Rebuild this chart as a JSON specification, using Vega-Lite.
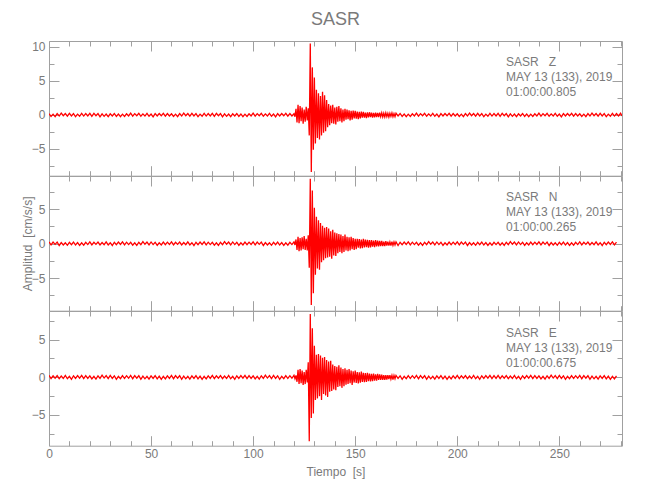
{
"$schema": "https://vega.github.io/schema/vega-lite/v6.json",
"title": {"text": "SASR", "fontSize": 18, "font": "Liberation Sans", "fontWeight": "normal", "color": "#7a7a7a", "anchor": "middle", "offset": 12, "frame": "group"},
"padding": {"left": 21, "top": 10, "right": 5, "bottom": 5},
"spacing": 0,
"bounds": "flush",
"datasets": {
"frame": [{"t": 0, "v": 0}],
"seis": [
{"t":0,"z":0.18,"n":0.25,"e":0.26},{"t":1,"z":-0.22,"n":-0.19,"e":-0.17},{"t":2,"z":0.12,"n":0.23,"e":0.2},{"t":3,"z":-0.25,"n":-0.11,"e":-0.11},{"t":4,"z":0.2,"n":0.21,"e":0.23},
{"t":5,"z":-0.15,"n":-0.27,"e":-0.19},{"t":6,"z":0.28,"n":0.16,"e":0.16},{"t":7,"z":-0.1,"n":-0.2,"e":-0.16},{"t":8,"z":0.22,"n":0.13,"e":0.24},{"t":9,"z":-0.17,"n":-0.24,"e":-0.19},
{"t":10,"z":0.24,"n":0.18,"e":0.13},{"t":11,"z":-0.14,"n":-0.15,"e":-0.27},{"t":12,"z":0.2,"n":0.22,"e":0.2},{"t":13,"z":-0.26,"n":-0.2,"e":-0.15},{"t":14,"z":0.12,"n":0.15,"e":0.22},
{"t":15,"z":-0.19,"n":-0.26,"e":-0.12},{"t":16,"z":0.23,"n":0.12,"e":0.25},{"t":17,"z":-0.16,"n":-0.22,"e":-0.18},{"t":18,"z":0.21,"n":0.18,"e":0.21},{"t":19,"z":-0.13,"n":-0.14,"e":-0.14},
{"t":20,"z":0.25,"n":0.26,"e":0.18},{"t":21,"z":-0.19,"n":-0.17,"e":-0.22},{"t":22,"z":0.23,"n":0.2,"e":0.12},{"t":23,"z":-0.11,"n":-0.11,"e":-0.25},{"t":24,"z":0.21,"n":0.23,"e":0.2},
{"t":25,"z":-0.27,"n":-0.19,"e":-0.15},{"t":26,"z":0.16,"n":0.16,"e":0.28},{"t":27,"z":-0.2,"n":-0.16,"e":-0.1},{"t":28,"z":0.13,"n":0.24,"e":0.22},{"t":29,"z":-0.24,"n":-0.19,"e":-0.17},
{"t":30,"z":0.18,"n":0.13,"e":0.24},{"t":31,"z":-0.15,"n":-0.27,"e":-0.14},{"t":32,"z":0.22,"n":0.2,"e":0.2},{"t":33,"z":-0.2,"n":-0.15,"e":-0.26},{"t":34,"z":0.15,"n":0.22,"e":0.12},
{"t":35,"z":-0.26,"n":-0.12,"e":-0.19},{"t":36,"z":0.12,"n":0.25,"e":0.23},{"t":37,"z":-0.22,"n":-0.18,"e":-0.16},{"t":38,"z":0.18,"n":0.21,"e":0.21},{"t":39,"z":-0.14,"n":-0.14,"e":-0.13},
{"t":40,"z":0.26,"n":0.18,"e":0.25},{"t":41,"z":-0.17,"n":-0.22,"e":-0.19},{"t":42,"z":0.2,"n":0.12,"e":0.23},{"t":43,"z":-0.11,"n":-0.25,"e":-0.11},{"t":44,"z":0.23,"n":0.2,"e":0.21},
{"t":45,"z":-0.19,"n":-0.15,"e":-0.27},{"t":46,"z":0.16,"n":0.28,"e":0.16},{"t":47,"z":-0.16,"n":-0.1,"e":-0.2},{"t":48,"z":0.24,"n":0.22,"e":0.13},{"t":49,"z":-0.19,"n":-0.17,"e":-0.24},
{"t":50,"z":0.13,"n":0.24,"e":0.18},{"t":51,"z":-0.27,"n":-0.14,"e":-0.15},{"t":52,"z":0.2,"n":0.2,"e":0.22},{"t":53,"z":-0.15,"n":-0.26,"e":-0.2},{"t":54,"z":0.22,"n":0.12,"e":0.15},
{"t":55,"z":-0.12,"n":-0.19,"e":-0.26},{"t":56,"z":0.25,"n":0.23,"e":0.12},{"t":57,"z":-0.18,"n":-0.16,"e":-0.22},{"t":58,"z":0.21,"n":0.21,"e":0.18},{"t":59,"z":-0.14,"n":-0.13,"e":-0.14},
{"t":60,"z":0.18,"n":0.26,"e":0.25},{"t":61,"z":-0.22,"n":-0.17,"e":-0.19},{"t":62,"z":0.12,"n":0.2,"e":0.23},{"t":63,"z":-0.25,"n":-0.11,"e":-0.11},{"t":64,"z":0.2,"n":0.23,"e":0.21},
{"t":65,"z":-0.15,"n":-0.19,"e":-0.27},{"t":66,"z":0.28,"n":0.16,"e":0.16},{"t":67,"z":-0.1,"n":-0.16,"e":-0.2},{"t":68,"z":0.22,"n":0.24,"e":0.13},{"t":69,"z":-0.17,"n":-0.19,"e":-0.24},
{"t":70,"z":0.24,"n":0.13,"e":0.18},{"t":71,"z":-0.14,"n":-0.27,"e":-0.15},{"t":72,"z":0.2,"n":0.2,"e":0.22},{"t":73,"z":-0.26,"n":-0.15,"e":-0.2},{"t":74,"z":0.12,"n":0.22,"e":0.15},
{"t":75,"z":-0.19,"n":-0.12,"e":-0.26},{"t":76,"z":0.23,"n":0.25,"e":0.12},{"t":77,"z":-0.16,"n":-0.18,"e":-0.22},{"t":78,"z":0.21,"n":0.21,"e":0.18},{"t":79,"z":-0.13,"n":-0.14,"e":-0.14},
{"t":80,"z":0.25,"n":0.18,"e":0.26},{"t":81,"z":-0.19,"n":-0.22,"e":-0.17},{"t":82,"z":0.23,"n":0.12,"e":0.2},{"t":83,"z":-0.11,"n":-0.25,"e":-0.11},{"t":84,"z":0.21,"n":0.2,"e":0.23},
{"t":85,"z":-0.27,"n":-0.15,"e":-0.19},{"t":86,"z":0.16,"n":0.28,"e":0.16},{"t":87,"z":-0.2,"n":-0.1,"e":-0.16},{"t":88,"z":0.13,"n":0.22,"e":0.24},{"t":89,"z":-0.24,"n":-0.17,"e":-0.19},
{"t":90,"z":0.18,"n":0.24,"e":0.13},{"t":91,"z":-0.15,"n":-0.14,"e":-0.27},{"t":92,"z":0.22,"n":0.2,"e":0.2},{"t":93,"z":-0.2,"n":-0.26,"e":-0.15},{"t":94,"z":0.15,"n":0.12,"e":0.22},
{"t":95,"z":-0.26,"n":-0.19,"e":-0.12},{"t":96,"z":0.12,"n":0.23,"e":0.25},{"t":97,"z":-0.22,"n":-0.16,"e":-0.18},{"t":98,"z":0.18,"n":0.21,"e":0.21},{"t":99,"z":-0.14,"n":-0.13,"e":-0.14},
{"t":100,"z":0.26,"n":0.25,"e":0.18},{"t":101,"z":-0.17,"n":-0.19,"e":-0.22},{"t":102,"z":0.2,"n":0.23,"e":0.12},{"t":103,"z":-0.11,"n":-0.11,"e":-0.25},{"t":104,"z":0.23,"n":0.21,"e":0.2},
{"t":105,"z":-0.19,"n":-0.27,"e":-0.15},{"t":106,"z":0.16,"n":0.16,"e":0.28},{"t":107,"z":-0.16,"n":-0.2,"e":-0.1},{"t":108,"z":0.24,"n":0.13,"e":0.22},{"t":109,"z":-0.19,"n":-0.24,"e":-0.17},
{"t":110,"z":0.13,"n":0.18,"e":0.24},{"t":111,"z":-0.27,"n":-0.15,"e":-0.14},{"t":112,"z":0.2,"n":0.22,"e":0.2},{"t":113,"z":-0.15,"n":-0.2,"e":-0.26},{"t":114,"z":0.22,"n":0.15,"e":0.12},
{"t":115,"z":-0.12,"n":-0.26,"e":-0.19},{"t":116,"z":0.25,"n":0.12,"e":0.23},{"t":117,"z":-0.18,"n":-0.22,"e":-0.16},{"t":118,"z":0.21,"n":0.18,"e":0.21},{"t":119,"z":-0.14,"n":-0.14,"e":-0.13},
{"t":120,"z":0.18,"n":0.25,"e":0.26},
{"t":120.5,"z":-0.25,"n":-0.2,"e":-0.2},{"t":121,"z":0.9,"n":0.6,"e":0.25},{"t":121.5,"z":-1.1,"n":-0.9,"e":-0.6},{"t":122,"z":1.5,"n":1.0,"e":1.0},
{"t":122.5,"z":-1.2,"n":-1.1,"e":-0.9},{"t":123,"z":1.3,"n":0.8,"e":1.1},{"t":123.5,"z":-0.9,"n":-1.0,"e":-0.8},{"t":124,"z":1.1,"n":0.9,"e":0.9},
{"t":124.5,"z":-1.3,"n":-0.8,"e":-1.0},{"t":125,"z":0.8,"n":1.1,"e":0.7},{"t":125.5,"z":-1.0,"n":-0.9,"e":-0.9},{"t":126,"z":1.2,"n":0.7,"e":1.0},
{"t":126.5,"z":-0.8,"n":-1.0,"e":-0.7},{"t":127,"z":1.0,"n":1.2,"e":2.0},{"t":127.5,"z":-3.0,"n":-3.5,"e":-8.5},{"t":128,"z":10.5,"n":9.4,"e":8.4},
{"t":128.5,"z":-8.4,"n":-8.9,"e":-5.4},{"t":129,"z":7.0,"n":7.7,"e":6.5},{"t":129.5,"z":-5.1,"n":-7.2,"e":-4.8},{"t":130,"z":5.5,"n":5.2,"e":4.2},
{"t":130.5,"z":-4.2,"n":-4.5,"e":-3.0},{"t":131,"z":3.7,"n":3.9,"e":3.0},{"t":131.5,"z":-3.4,"n":-3.6,"e":-2.8},{"t":132,"z":3.2,"n":3.4,"e":3.1},
{"t":132.5,"z":-3.6,"n":-3.8,"e":-2.5},{"t":133,"z":2.8,"n":3.0,"e":2.9},{"t":133.5,"z":-3.0,"n":-2.7,"e":-3.0},{"t":134,"z":3.4,"n":2.6,"e":2.6},
{"t":134.5,"z":-2.6,"n":-2.4,"e":-2.2},{"t":135,"z":2.9,"n":2.3,"e":2.7},{"t":135.5,"z":-2.4,"n":-2.1,"e":-2.4},{"t":136,"z":2.2,"n":2.4,"e":2.3},
{"t":136.5,"z":-1.8,"n":-2.0,"e":-2.6},{"t":137,"z":1.6,"n":2.2,"e":2.1},{"t":137.5,"z":-1.5,"n":-1.9,"e":-1.9},{"t":138,"z":1.4,"n":1.8,"e":2.2},
{"t":138.5,"z":-1.2,"n":-2.2,"e":-1.8},{"t":139,"z":1.5,"n":2.0,"e":1.7},{"t":139.5,"z":-1.3,"n":-1.7,"e":-1.6},{"t":140,"z":1.1,"n":1.6,"e":1.5},
{"t":140.5,"z":-1.4,"n":-1.8,"e":-1.7},{"t":141,"z":1.2,"n":1.5,"e":1.4},{"t":141.5,"z":-1.0,"n":-1.4,"e":-1.3},{"t":142,"z":1.3,"n":1.4,"e":1.6},
{"t":142.5,"z":-0.9,"n":-1.2,"e":-1.2},{"t":143,"z":1.0,"n":1.3,"e":1.3},{"t":143.5,"z":-1.1,"n":-1.4,"e":-1.4},{"t":144,"z":0.8,"n":1.1,"e":1.1},
{"t":144.5,"z":-0.9,"n":-1.2,"e":-1.2},{"t":145,"z":0.9,"n":1.3,"e":1.2},{"t":145.5,"z":-0.7,"n":-1.0,"e":-1.0},{"t":146,"z":0.8,"n":1.0,"e":1.0},
{"t":146.5,"z":-0.6,"n":-1.1,"e":-0.9},{"t":147,"z":0.7,"n":0.9,"e":1.1},{"t":147.5,"z":-0.8,"n":-1.0,"e":-0.8},{"t":148,"z":0.6,"n":1.0,"e":0.9},
{"t":148.5,"z":-0.7,"n":-0.8,"e":-1.0},{"t":149,"z":0.65,"n":0.8,"e":0.8},{"t":149.5,"z":-0.5,"n":-0.9,"e":-0.7},{"t":150,"z":0.6,"n":0.7,"e":0.9},
{"t":150.5,"z":-0.55,"n":-0.8,"e":-0.75},{"t":151,"z":0.5,"n":0.7,"e":0.7},{"t":151.5,"z":-0.6,"n":-0.6,"e":-0.8},{"t":152,"z":0.45,"n":0.65,"e":0.65},
{"t":152.5,"z":-0.5,"n":-0.7,"e":-0.7},{"t":153,"z":0.5,"n":0.6,"e":0.75},{"t":153.5,"z":-0.4,"n":-0.65,"e":-0.6},{"t":154,"z":0.45,"n":0.7,"e":0.6},
{"t":154.5,"z":-0.4,"n":-0.55,"e":-0.65},{"t":155,"z":0.35,"n":0.6,"e":0.55},{"t":155.5,"z":-0.45,"n":-0.5,"e":-0.6},{"t":156,"z":0.4,"n":0.55,"e":0.6},
{"t":156.5,"z":-0.35,"n":-0.6,"e":-0.5},{"t":157,"z":0.4,"n":0.5,"e":0.5},{"t":157.5,"z":-0.3,"n":-0.55,"e":-0.55},{"t":158,"z":0.35,"n":0.5,"e":0.45},
{"t":158.5,"z":-0.4,"n":-0.45,"e":-0.5},{"t":159,"z":0.3,"n":0.45,"e":0.5},{"t":159.5,"z":-0.35,"n":-0.5,"e":-0.45},{"t":160,"z":0.35,"n":0.5,"e":0.4},
{"t":160.5,"z":-0.3,"n":-0.4,"e":-0.45},{"t":161,"z":0.3,"n":0.45,"e":0.45},{"t":161.5,"z":-0.3,"n":-0.4,"e":-0.35},{"t":162,"z":0.35,"n":0.4,"e":0.4},
{"t":162.5,"z":-0.25,"n":-0.35,"e":-0.35},{"t":163,"z":0.3,"n":0.4,"e":0.35},{"t":163.5,"z":-0.3,"n":-0.35,"e":-0.35},{"t":164,"z":0.25,"n":0.3,"e":0.3},
{"t":164.5,"z":-0.3,"n":-0.35,"e":-0.35},{"t":165,"z":0.3,"n":0.35,"e":0.3},{"t":165.5,"z":-0.25,"n":-0.3,"e":-0.3},{"t":166,"z":0.25,"n":0.3,"e":0.3},
{"t":166.5,"z":-0.3,"n":-0.3,"e":-0.25},{"t":167,"z":0.25,"n":0.25,"e":0.3},{"t":167.5,"z":-0.2,"n":-0.3,"e":-0.25},{"t":168,"z":0.3,"n":0.3,"e":0.25},
{"t":168.5,"z":-0.25,"n":-0.25,"e":-0.3},{"t":169,"z":0.2,"n":0.25,"e":0.25},{"t":169.5,"z":-0.25,"n":-0.2,"e":-0.2},{"t":170,"z":0.25,"n":0.25,"e":0.25},
{"t":171,"z":-0.15,"n":-0.27,"e":-0.14},{"t":172,"z":0.22,"n":0.2,"e":0.2},{"t":173,"z":-0.2,"n":-0.15,"e":-0.26},{"t":174,"z":0.15,"n":0.22,"e":0.12},
{"t":175,"z":-0.26,"n":-0.12,"e":-0.19},{"t":176,"z":0.12,"n":0.25,"e":0.23},{"t":177,"z":-0.22,"n":-0.18,"e":-0.16},{"t":178,"z":0.18,"n":0.21,"e":0.21},{"t":179,"z":-0.14,"n":-0.14,"e":-0.13},
{"t":180,"z":0.26,"n":0.18,"e":0.25},{"t":181,"z":-0.17,"n":-0.22,"e":-0.19},{"t":182,"z":0.2,"n":0.12,"e":0.23},{"t":183,"z":-0.11,"n":-0.25,"e":-0.11},{"t":184,"z":0.23,"n":0.2,"e":0.21},
{"t":185,"z":-0.19,"n":-0.15,"e":-0.27},{"t":186,"z":0.16,"n":0.28,"e":0.16},{"t":187,"z":-0.16,"n":-0.1,"e":-0.2},{"t":188,"z":0.24,"n":0.22,"e":0.13},{"t":189,"z":-0.19,"n":-0.17,"e":-0.24},
{"t":190,"z":0.13,"n":0.24,"e":0.18},{"t":191,"z":-0.27,"n":-0.14,"e":-0.15},{"t":192,"z":0.2,"n":0.2,"e":0.22},{"t":193,"z":-0.15,"n":-0.26,"e":-0.2},{"t":194,"z":0.22,"n":0.12,"e":0.15},
{"t":195,"z":-0.12,"n":-0.19,"e":-0.26},{"t":196,"z":0.25,"n":0.23,"e":0.12},{"t":197,"z":-0.18,"n":-0.16,"e":-0.22},{"t":198,"z":0.21,"n":0.21,"e":0.18},{"t":199,"z":-0.14,"n":-0.13,"e":-0.14},
{"t":200,"z":0.18,"n":0.25,"e":0.26},{"t":201,"z":-0.22,"n":-0.19,"e":-0.17},{"t":202,"z":0.12,"n":0.23,"e":0.2},{"t":203,"z":-0.25,"n":-0.11,"e":-0.11},{"t":204,"z":0.2,"n":0.21,"e":0.23},
{"t":205,"z":-0.15,"n":-0.27,"e":-0.19},{"t":206,"z":0.28,"n":0.16,"e":0.16},{"t":207,"z":-0.1,"n":-0.2,"e":-0.16},{"t":208,"z":0.22,"n":0.13,"e":0.24},{"t":209,"z":-0.17,"n":-0.24,"e":-0.19},
{"t":210,"z":0.24,"n":0.18,"e":0.13},{"t":211,"z":-0.14,"n":-0.15,"e":-0.27},{"t":212,"z":0.2,"n":0.22,"e":0.2},{"t":213,"z":-0.26,"n":-0.2,"e":-0.15},{"t":214,"z":0.12,"n":0.15,"e":0.22},
{"t":215,"z":-0.19,"n":-0.26,"e":-0.12},{"t":216,"z":0.23,"n":0.12,"e":0.25},{"t":217,"z":-0.16,"n":-0.22,"e":-0.18},{"t":218,"z":0.21,"n":0.18,"e":0.21},{"t":219,"z":-0.13,"n":-0.14,"e":-0.14},
{"t":220,"z":0.25,"n":0.18,"e":0.26},{"t":221,"z":-0.19,"n":-0.22,"e":-0.17},{"t":222,"z":0.23,"n":0.12,"e":0.2},{"t":223,"z":-0.11,"n":-0.25,"e":-0.11},{"t":224,"z":0.21,"n":0.2,"e":0.23},
{"t":225,"z":-0.27,"n":-0.15,"e":-0.19},{"t":226,"z":0.16,"n":0.28,"e":0.16},{"t":227,"z":-0.2,"n":-0.1,"e":-0.16},{"t":228,"z":0.13,"n":0.22,"e":0.24},{"t":229,"z":-0.24,"n":-0.17,"e":-0.19},
{"t":230,"z":0.18,"n":0.24,"e":0.13},{"t":231,"z":-0.15,"n":-0.14,"e":-0.27},{"t":232,"z":0.22,"n":0.2,"e":0.2},{"t":233,"z":-0.2,"n":-0.26,"e":-0.15},{"t":234,"z":0.15,"n":0.12,"e":0.22},
{"t":235,"z":-0.26,"n":-0.19,"e":-0.12},{"t":236,"z":0.12,"n":0.23,"e":0.25},{"t":237,"z":-0.22,"n":-0.16,"e":-0.18},{"t":238,"z":0.18,"n":0.21,"e":0.21},{"t":239,"z":-0.14,"n":-0.13,"e":-0.14},
{"t":240,"z":0.26,"n":0.25,"e":0.18},{"t":241,"z":-0.17,"n":-0.19,"e":-0.22},{"t":242,"z":0.2,"n":0.23,"e":0.12},{"t":243,"z":-0.11,"n":-0.11,"e":-0.25},{"t":244,"z":0.23,"n":0.21,"e":0.2},
{"t":245,"z":-0.19,"n":-0.27,"e":-0.15},{"t":246,"z":0.16,"n":0.16,"e":0.28},{"t":247,"z":-0.16,"n":-0.2,"e":-0.1},{"t":248,"z":0.24,"n":0.13,"e":0.22},{"t":249,"z":-0.19,"n":-0.24,"e":-0.17},
{"t":250,"z":0.13,"n":0.18,"e":0.24},{"t":251,"z":-0.27,"n":-0.15,"e":-0.14},{"t":252,"z":0.2,"n":0.22,"e":0.2},{"t":253,"z":-0.15,"n":-0.2,"e":-0.26},{"t":254,"z":0.22,"n":0.15,"e":0.12},
{"t":255,"z":-0.12,"n":-0.26,"e":-0.19},{"t":256,"z":0.25,"n":0.12,"e":0.23},{"t":257,"z":-0.18,"n":-0.22,"e":-0.16},{"t":258,"z":0.21,"n":0.18,"e":0.21},{"t":259,"z":-0.14,"n":-0.14,"e":-0.13},
{"t":260,"z":0.18,"n":0.26,"e":0.25},{"t":261,"z":-0.22,"n":-0.17,"e":-0.19},{"t":262,"z":0.12,"n":0.2,"e":0.23},{"t":263,"z":-0.25,"n":-0.11,"e":-0.11},{"t":264,"z":0.2,"n":0.23,"e":0.21},
{"t":265,"z":-0.15,"n":-0.19,"e":-0.27},{"t":266,"z":0.28,"n":0.16,"e":0.16},{"t":267,"z":-0.1,"n":-0.16,"e":-0.2},{"t":268,"z":0.22,"n":0.24,"e":0.13},{"t":269,"z":-0.17,"n":-0.19,"e":-0.24},
{"t":270,"z":0.24,"n":0.13,"e":0.18},{"t":271,"z":-0.14,"n":-0.27,"e":-0.15},{"t":272,"z":0.2,"n":0.2,"e":0.22},{"t":273,"z":-0.26,"n":-0.15,"e":-0.2},{"t":274,"z":0.12,"n":0.22,"e":0.15},
{"t":275,"z":-0.19,"n":-0.12,"e":-0.26},{"t":276,"z":0.23,"n":0.25,"e":0.12},{"t":277,"z":-0.16,"n":-0.18,"e":-0.22},{"t":278,"z":0.21,"n":0.21,"e":0.18},
{"t":279,"z":-0.13},{"t":280,"z":0.25},{"t":280.7,"z":-0.15}
]
},
"vconcat": [
{
"width": 573, "height": 134.7,
"resolve": {"axis": {"x": "independent", "y": "independent"}},
"layer": [
{"data": {"name": "seis"}, "mark": {"type": "line", "color": "#ff0000", "strokeWidth": 1.3, "clip": true},
"encoding": {
"x": {"field": "t", "type": "quantitative", "scale": {"domain": [0, 280.7], "nice": false, "zero": false}, "axis": {"orient": "bottom", "values": [0,50,100,150,200,250], "tickSize": -10, "labels": false, "title": null}},
"y": {"field": "z", "type": "quantitative", "scale": {"domain": [-8.93, 10.88], "nice": false, "zero": false}, "axis": {"orient": "left", "values": [-5,0,5,10], "tickSize": -10, "labelPadding": 14, "format": "d", "title": null}}}},
{"data": {"name": "frame"}, "mark": {"type": "point", "opacity": 0},
"encoding": {
"x": {"field": "t", "type": "quantitative", "scale": {"domain": [0, 280.7], "nice": false, "zero": false}, "axis": {"orient": "top", "values": [0,50,100,150,200,250], "tickSize": -10, "labels": false, "title": null}},
"y": {"field": "v", "type": "quantitative", "scale": {"domain": [-8.93, 10.88], "nice": false, "zero": false}, "axis": {"orient": "right", "values": [-5,0,5,10], "tickSize": -10, "labels": false, "title": null}}}},
{"data": {"name": "frame"}, "mark": {"type": "point", "opacity": 0},
"encoding": {
"x": {"field": "t", "type": "quantitative", "scale": {"domain": [0, 280.7], "nice": false, "zero": false}, "axis": {"orient": "bottom", "values": [10,20,30,40,60,70,80,90,110,120,130,140,160,170,180,190,210,220,230,240,260,270,280], "tickSize": -5, "labels": false, "domain": false, "title": null}},
"y": {"field": "v", "type": "quantitative", "scale": {"domain": [-8.93, 10.88], "nice": false, "zero": false}, "axis": {"orient": "left", "values": [-7.5,-2.5,2.5,7.5], "tickSize": -5, "labels": false, "domain": false, "title": null}}}},
{"data": {"name": "frame"}, "mark": {"type": "point", "opacity": 0},
"encoding": {
"x": {"field": "t", "type": "quantitative", "scale": {"domain": [0, 280.7], "nice": false, "zero": false}, "axis": {"orient": "top", "values": [10,20,30,40,60,70,80,90,110,120,130,140,160,170,180,190,210,220,230,240,260,270,280], "tickSize": -5, "labels": false, "domain": false, "title": null}},
"y": {"field": "v", "type": "quantitative", "scale": {"domain": [-8.93, 10.88], "nice": false, "zero": false}, "axis": {"orient": "right", "values": [-7.5,-2.5,2.5,7.5], "tickSize": -5, "labels": false, "domain": false, "title": null}}}},
{"data": {"name": "frame"}, "mark": {"type": "text", "align": "left", "baseline": "alphabetic", "lineHeight": 15, "fontSize": 12, "color": "#7a7a7a", "font": "Liberation Sans"},
"encoding": {"x": {"datum": 223.9, "type": "quantitative", "axis": null}, "y": {"datum": 7.2, "type": "quantitative", "axis": null}, "text": {"value": ["SASR\u00a0\u00a0\u00a0Z", "MAY 13 (133), 2019", "01:00:00.805"]}}}
]
},
{
"width": 573, "height": 134.7,
"resolve": {"axis": {"x": "independent", "y": "independent"}},
"layer": [
{"data": {"name": "seis"}, "mark": {"type": "line", "color": "#ff0000", "strokeWidth": 1.3, "clip": true},
"encoding": {
"x": {"field": "t", "type": "quantitative", "scale": {"domain": [0, 280.7], "nice": false, "zero": false}, "axis": {"orient": "bottom", "values": [0,50,100,150,200,250], "tickSize": -10, "labels": false, "title": null}},
"y": {"field": "n", "type": "quantitative", "scale": {"domain": [-9.72, 9.8], "nice": false, "zero": false}, "axis": {"orient": "left", "values": [-5,0,5], "tickSize": -10, "labelPadding": 14, "format": "d", "title": "Amplitud\u00a0\u00a0[cm/s/s]", "titleX": -21.5, "titleY": 67.35, "titleAngle": -90, "titleAlign": "center", "titleBaseline": "middle"}}}},
{"data": {"name": "frame"}, "mark": {"type": "point", "opacity": 0},
"encoding": {
"x": {"field": "t", "type": "quantitative", "scale": {"domain": [0, 280.7], "nice": false, "zero": false}, "axis": {"orient": "top", "values": [0,50,100,150,200,250], "tickSize": -10, "labels": false, "title": null}},
"y": {"field": "v", "type": "quantitative", "scale": {"domain": [-9.72, 9.8], "nice": false, "zero": false}, "axis": {"orient": "right", "values": [-5,0,5], "tickSize": -10, "labels": false, "title": null}}}},
{"data": {"name": "frame"}, "mark": {"type": "point", "opacity": 0},
"encoding": {
"x": {"field": "t", "type": "quantitative", "scale": {"domain": [0, 280.7], "nice": false, "zero": false}, "axis": {"orient": "bottom", "values": [10,20,30,40,60,70,80,90,110,120,130,140,160,170,180,190,210,220,230,240,260,270,280], "tickSize": -5, "labels": false, "domain": false, "title": null}},
"y": {"field": "v", "type": "quantitative", "scale": {"domain": [-9.72, 9.8], "nice": false, "zero": false}, "axis": {"orient": "left", "values": [-7.5,-2.5,2.5,7.5], "tickSize": -5, "labels": false, "domain": false, "title": null}}}},
{"data": {"name": "frame"}, "mark": {"type": "point", "opacity": 0},
"encoding": {
"x": {"field": "t", "type": "quantitative", "scale": {"domain": [0, 280.7], "nice": false, "zero": false}, "axis": {"orient": "top", "values": [10,20,30,40,60,70,80,90,110,120,130,140,160,170,180,190,210,220,230,240,260,270,280], "tickSize": -5, "labels": false, "domain": false, "title": null}},
"y": {"field": "v", "type": "quantitative", "scale": {"domain": [-9.72, 9.8], "nice": false, "zero": false}, "axis": {"orient": "right", "values": [-7.5,-2.5,2.5,7.5], "tickSize": -5, "labels": false, "domain": false, "title": null}}}},
{"data": {"name": "frame"}, "mark": {"type": "text", "align": "left", "baseline": "alphabetic", "lineHeight": 15, "fontSize": 12, "color": "#7a7a7a", "font": "Liberation Sans"},
"encoding": {"x": {"datum": 223.9, "type": "quantitative", "axis": null}, "y": {"datum": 6.2, "type": "quantitative", "axis": null}, "text": {"value": ["SASR\u00a0\u00a0\u00a0N", "MAY 13 (133), 2019", "01:00:00.265"]}}}
]
},
{
"width": 573, "height": 134.7,
"resolve": {"axis": {"x": "independent", "y": "independent"}},
"layer": [
{"data": {"name": "seis"}, "mark": {"type": "line", "color": "#ff0000", "strokeWidth": 1.3, "clip": true},
"encoding": {
"x": {"field": "t", "type": "quantitative", "scale": {"domain": [0, 280.7], "nice": false, "zero": false}, "axis": {"orient": "bottom", "values": [0,50,100,150,200,250], "tickSize": -10, "labelPadding": 13, "format": "d", "title": "Tiempo\u00a0\u00a0[s]", "titlePadding": 7}},
"y": {"field": "e", "type": "quantitative", "scale": {"domain": [-9.08, 8.8], "nice": false, "zero": false}, "axis": {"orient": "left", "values": [-5,0,5], "tickSize": -10, "labelPadding": 14, "format": "d", "title": null}}}},
{"data": {"name": "frame"}, "mark": {"type": "point", "opacity": 0},
"encoding": {
"x": {"field": "t", "type": "quantitative", "scale": {"domain": [0, 280.7], "nice": false, "zero": false}, "axis": {"orient": "top", "values": [0,50,100,150,200,250], "tickSize": -10, "labels": false, "title": null}},
"y": {"field": "v", "type": "quantitative", "scale": {"domain": [-9.08, 8.8], "nice": false, "zero": false}, "axis": {"orient": "right", "values": [-5,0,5], "tickSize": -10, "labels": false, "title": null}}}},
{"data": {"name": "frame"}, "mark": {"type": "point", "opacity": 0},
"encoding": {
"x": {"field": "t", "type": "quantitative", "scale": {"domain": [0, 280.7], "nice": false, "zero": false}, "axis": {"orient": "bottom", "values": [10,20,30,40,60,70,80,90,110,120,130,140,160,170,180,190,210,220,230,240,260,270,280], "tickSize": -5, "labels": false, "domain": false, "title": null}},
"y": {"field": "v", "type": "quantitative", "scale": {"domain": [-9.08, 8.8], "nice": false, "zero": false}, "axis": {"orient": "left", "values": [-7.5,-2.5,2.5,7.5], "tickSize": -5, "labels": false, "domain": false, "title": null}}}},
{"data": {"name": "frame"}, "mark": {"type": "point", "opacity": 0},
"encoding": {
"x": {"field": "t", "type": "quantitative", "scale": {"domain": [0, 280.7], "nice": false, "zero": false}, "axis": {"orient": "top", "values": [10,20,30,40,60,70,80,90,110,120,130,140,160,170,180,190,210,220,230,240,260,270,280], "tickSize": -5, "labels": false, "domain": false, "title": null}},
"y": {"field": "v", "type": "quantitative", "scale": {"domain": [-9.08, 8.8], "nice": false, "zero": false}, "axis": {"orient": "right", "values": [-7.5,-2.5,2.5,7.5], "tickSize": -5, "labels": false, "domain": false, "title": null}}}},
{"data": {"name": "frame"}, "mark": {"type": "text", "align": "left", "baseline": "alphabetic", "lineHeight": 15, "fontSize": 12, "color": "#7a7a7a", "font": "Liberation Sans"},
"encoding": {"x": {"datum": 223.9, "type": "quantitative", "axis": null}, "y": {"datum": 5.4, "type": "quantitative", "axis": null}, "text": {"value": ["SASR\u00a0\u00a0\u00a0E", "MAY 13 (133), 2019", "01:00:00.675"]}}}
]
}
],
"config": {
"font": "Liberation Sans",
"view": {"stroke": null},
"axis": {"grid": false, "labelFont": "Liberation Sans", "labelFontSize": 12, "labelColor": "#7a7a7a", "titleFont": "Liberation Sans", "titleFontSize": 12, "titleFontWeight": "normal", "titleColor": "#7a7a7a", "domainColor": "#a0a0a0", "tickColor": "#a0a0a0", "labelFlush": false, "labelOverlap": false}
}
}
